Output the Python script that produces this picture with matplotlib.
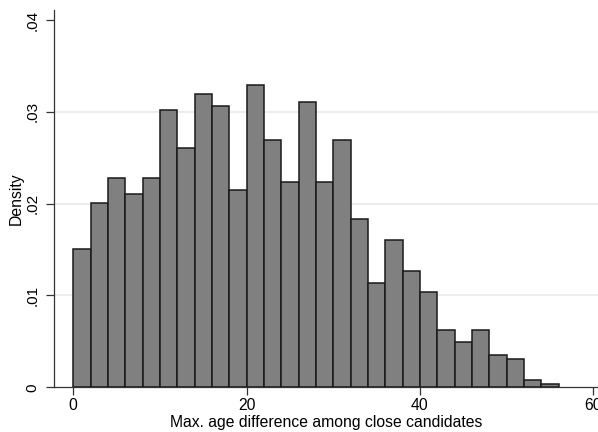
import matplotlib
matplotlib.use("Agg")
import matplotlib.pyplot as plt
import numpy as np

# histogram bins: width 2, from 0 to 56
bin_left = np.arange(0, 56, 2)
density = [
    0.01505, 0.02007, 0.02283, 0.02100, 0.02283, 0.03016, 0.02602,
    0.03199, 0.03060, 0.02144, 0.03289, 0.02693, 0.02236, 0.03104,
    0.02231, 0.02693, 0.01828, 0.01137, 0.01599, 0.01272, 0.01043,
    0.00628, 0.00497, 0.00628, 0.00356, 0.00309, 0.00083, 0.00036,
]
x_ticks = [0, 20, 40, 60]
y_ticks = [0, 0.01, 0.02, 0.03, 0.04]
y_ticklabels = ["0", ".01", ".02", ".03", ".04"]

plt.rcParams["font.family"] = ["Liberation Sans", "DejaVu Sans"]

fig = plt.figure(figsize=(5.98, 4.32), dpi=100)
ax = fig.add_axes([0.0908, 0.1035, 0.9092, 0.8735])

ax.bar(bin_left, density, width=2, align="edge", color="#808080",
       edgecolor="#1a1a1a", linewidth=1.1, zorder=3)

for yv in [0.01, 0.02, 0.03]:
    ax.axhline(yv, color="#eaeaea", linewidth=1.2, zorder=1)

ax.set_xlim(-2.19, 60.55)
ax.set_ylim(0, 0.0411)
ax.set_xticks(x_ticks)
ax.set_yticks(y_ticks)
ax.set_yticklabels(y_ticklabels, rotation=90, va="center")
ax.tick_params(direction="out", length=6, width=0.9, labelsize=11.3,
               color="#333333")
ax.tick_params(axis="y", pad=4.5, labelsize=11)
ax.tick_params(axis="x", pad=2)

for s in ["top", "right"]:
    ax.spines[s].set_visible(False)
for s in ["left", "bottom"]:
    ax.spines[s].set_color("#333333")
    ax.spines[s].set_linewidth(0.9)

ax.set_xlabel("Max. age difference among close candidates", fontsize=11.3, labelpad=1)
ax.set_ylabel("Density", fontsize=11.3, labelpad=1.5)

fig.savefig("out.png", dpi=100)
